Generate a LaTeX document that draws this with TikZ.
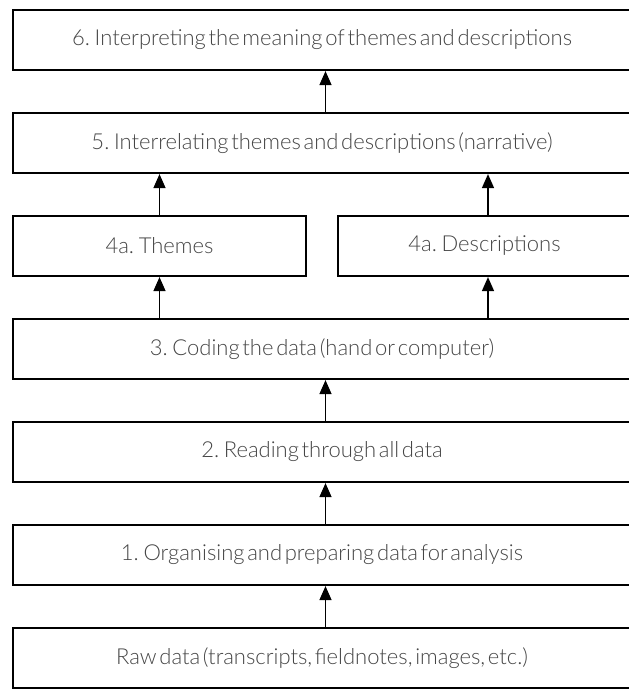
\documentclass[tikz,border=0pt]{standalone}
\usepackage{fontspec}
\setmainfont{Lato}[UprightFont=* Light, WordSpace=0.45]
\usetikzlibrary{arrows.meta}
\definecolor{labelgray}{HTML}{454545}
\begin{document}
\begin{tikzpicture}[x=1pt,y=-1pt,
  stage/.style={inner sep=0pt, outer sep=0pt, minimum height=60pt,
    text=labelgray, font=\fontsize{22}{24}\selectfont},
  wide/.style={stage, minimum width=618pt},
  frame/.style={line width=2.2pt, line join=miter},
  flow/.style={line width=1.4pt, shorten <=1.1pt, shorten >=1.1pt,
    -{Triangle[width=12pt,length=14pt]}}]
\useasboundingbox (0,0) rectangle (629,689);
% stages, bottom to top; the wide boxes run on past the right edge
\node[wide] (raw) at (322,658) {Raw data (transcripts, fieldnotes, images, etc.)};
\node[wide] (s1) at (322,555) {1. Organising and preparing data for analysis};
\node[wide] (s2) at (322,452) {2. Reading through all data};
\node[wide] (s3) at (322,349) {3. Coding the data (hand or computer)};
\node[stage, minimum width=293pt] (th) at (159.5,246) {4a. Themes};
\node[stage, minimum width=293pt] (de) at (484.5,246) {4a. Descriptions};
\node[wide] (s5) at (322,143) {5. Interrelating themes and descriptions (narrative)};
\node[wide] (s6) at (322,40) {6. Interpreting the meaning of themes and descriptions};
% frames: open on the right where the boxes leave the page
\foreach \n in {raw,s1,s2,s3,de,s5,s6}
  \draw[frame] (\n.north east) -- (\n.north west) -- (\n.south west) -- (\n.south east);
\draw[frame] (th.north west) rectangle (th.south east);
% connectors
\coordinate (mid) at (325.5,0);
\coordinate (dx) at (488,0);
\draw[flow] (raw.north -| mid) -- (s1.south -| mid);
\draw[flow] (s1.north -| mid) -- (s2.south -| mid);
\draw[flow] (s2.north -| mid) -- (s3.south -| mid);
\draw[flow] (s3.north -| th.south) -- (th.south);
\draw[flow] (s3.north -| dx) -- (de.south -| dx);
\draw[flow] (th.north) -- (s5.south -| th.north);
\draw[flow] (de.north -| dx) -- (s5.south -| dx);
\draw[flow] (s5.north -| mid) -- (s6.south -| mid);
\end{tikzpicture}
\end{document}
